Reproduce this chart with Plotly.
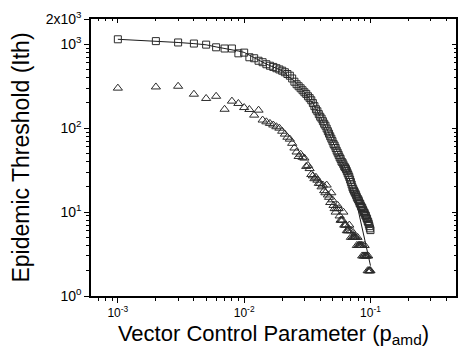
import math
import plotly.graph_objects as go

# ---------------- data ----------------
p_amd = [
    0.001, 0.002, 0.003, 0.004, 0.005, 0.006, 0.007, 0.008, 0.009, 0.010,
    0.011, 0.012, 0.013, 0.014, 0.015, 0.016, 0.017, 0.018, 0.019, 0.020,
    0.021, 0.022, 0.023, 0.024, 0.025, 0.026, 0.027, 0.028, 0.029, 0.030,
    0.031, 0.032, 0.033, 0.034, 0.035, 0.036, 0.037, 0.038, 0.039, 0.040,
    0.041, 0.042, 0.043, 0.044, 0.045, 0.046, 0.047, 0.048, 0.049, 0.050,
    0.051, 0.052, 0.053, 0.054, 0.055, 0.056, 0.057, 0.058, 0.059, 0.060,
    0.061, 0.062, 0.063, 0.064, 0.065, 0.066, 0.067, 0.068, 0.069, 0.070,
    0.071, 0.072, 0.073, 0.074, 0.075, 0.076, 0.077, 0.078, 0.079, 0.080,
    0.081, 0.082, 0.083, 0.084, 0.085, 0.086, 0.087, 0.088, 0.089, 0.090,
    0.091, 0.092, 0.093, 0.094, 0.095, 0.096, 0.097, 0.098, 0.099, 0.100,
]

ith_squares = [
    1146, 1090, 1050, 1020, 990, 920, 890, 890, 780, 795,
    700, 681, 636, 611, 578, 555, 537, 518, 501, 484,
    464, 442, 422, 391, 358, 334, 316, 299, 283, 268,
    256, 240, 228, 215, 199, 183, 168, 159, 147, 137,
    130, 121, 113, 107, 99, 92, 86, 80, 75, 70,
    65, 62, 58, 54, 51, 48, 45, 43, 40, 39,
    37, 35, 34, 32.5, 30.8, 29.1, 27.6, 26.1, 24.4, 22.8,
    21.3, 19.8, 18.8, 18.0, 17.3, 16.6, 15.9, 15.1, 14.5, 14.1,
    13.5, 12.8, 12.5, 11.9, 11.5, 11.2, 10.7, 10.3, 9.9, 9.7,
    9.2, 9.0, 8.5, 8.3, 7.8, 7.6, 7.2, 6.8, 6.4, 6.1,
]

ith_triangles = [
    300, 310, 316, 254, 226, 240, 168, 210, 197, 176,
    167, 143, 164, 125, 119, 114, 109, 104, 100, 92,
    85, 78, 74, 66, 58, 52, 46, 49, 45, 44,
    35, 36, 33, 28, 27, 25, 26, 24, 22, 22,
    20, 21, 18, 17, 21, 16, 15, 13, 17, 14,
    12, 11, 10, 11, 12, 11, 9, 8, 8, 8,
    10, 7, 7, 7, 6, 6, 6, 7, 6, 5,
    6, 5, 5, 5, 5, 5, 5, 4, 5, 4,
    4, 4, 4, 4, 4, 3, 4, 3, 3, 4,
    3, 3, 3, 3, 2, 3, 2, 2, 2, 2,
]

curve_x = [0.001, 0.002, 0.003, 0.004, 0.005, 0.006, 0.007, 0.008, 0.009, 0.010,
           0.015, 0.020, 0.025, 0.030, 0.035, 0.040, 0.045, 0.050, 0.055, 0.060,
           0.065, 0.070, 0.075, 0.080, 0.085, 0.090, 0.095, 0.100]
curve_y = [1146, 1095, 1050, 1018, 985, 930, 895, 870, 830, 800,
           580, 484, 360, 268, 199, 137, 99, 70, 51, 39,
           30, 22, 16, 10.5, 7.0, 4.6, 3.2, 2.3]

x_major = [0.001, 0.01, 0.1]
x_major_text = ["10<sup>-3</sup>", "10<sup>-2</sup>", "10<sup>-1</sup>"]
y_major = [1, 10, 100, 1000, 2000]
y_major_text = ["10<sup>0</sup>", "10<sup>1</sup>", "10<sup>2</sup>", "10<sup>3</sup>", "2x10<sup>3</sup>"]

# ---------------- figure ----------------
INK = "#2b2b2b"
FONT = "Arial, Liberation Sans, sans-serif"

x_minor = [m * 10 ** e for e in (-4, -3, -2, -1) for m in range(2, 10)]
y_minor = [m * 10 ** e for e in (0, 1, 2) for m in range(2, 10)]

fig = go.Figure()
fig.add_trace(go.Scatter(x=curve_x, y=curve_y, mode="lines",
                         line=dict(color="#1a1a1a", width=1), showlegend=False))
fig.add_trace(go.Scatter(x=p_amd, y=ith_squares, mode="markers",
                         marker=dict(symbol="square-open", size=7,
                                     color=INK, line=dict(width=1, color=INK)),
                         showlegend=False))
fig.add_trace(go.Scatter(x=p_amd, y=ith_triangles, mode="markers",
                         marker=dict(symbol="triangle-up-open", size=8,
                                     color=INK, line=dict(width=1, color=INK)),
                         showlegend=False))
# helper traces so the top / right tick axes get drawn
fig.add_trace(go.Scatter(x=[None], y=[None], xaxis="x2", yaxis="y",
                         mode="markers", showlegend=False, hoverinfo="skip"))
fig.add_trace(go.Scatter(x=[None], y=[None], xaxis="x", yaxis="y2",
                         mode="markers", showlegend=False, hoverinfo="skip"))

xr = [-3.2126, -0.3228]
yr = [0, math.log10(2000)]

fig.update_layout(
    width=458, height=354,
    margin=dict(l=91, r=0, t=19, b=58),
    paper_bgcolor="white", plot_bgcolor="white",
    font=dict(family=FONT, color="black", size=12),
    xaxis=dict(type="log", range=xr, showgrid=False, zeroline=False,
               showline=True, mirror=True, linecolor="black", linewidth=2,
               ticks="outside", ticklen=5, tickwidth=1, tickcolor="black",
               tickvals=x_major, ticktext=x_major_text,
               tickfont=dict(size=12, family=FONT),
               minor=dict(tickvals=x_minor, ticks="outside", ticklen=3,
                          tickwidth=1, tickcolor="black", showgrid=False),
               title=dict(text="Vector Control Parameter (p<sub>amd</sub>)",
                          font=dict(size=22, family=FONT), standoff=6)),
    yaxis=dict(type="log", range=yr, showgrid=False, zeroline=False,
               showline=True, mirror=True, linecolor="black", linewidth=1.5,
               ticks="outside", ticklen=5, tickwidth=1, tickcolor="black",
               tickvals=y_major, ticktext=y_major_text,
               tickfont=dict(size=14, family=FONT),
               minor=dict(tickvals=y_minor, ticks="outside", ticklen=3,
                          tickwidth=1, tickcolor="black", showgrid=False),
               title=dict(text="Epidemic Threshold (Ith)",
                          font=dict(size=23, family=FONT), standoff=10)),
    xaxis2=dict(type="log", range=xr, overlaying="x", side="top", anchor="y",
                showgrid=False, zeroline=False, showline=True,
                linecolor="black", linewidth=2,
                ticks="inside", ticklen=4, tickwidth=1,
                tickcolor="black", tickvals=x_major, showticklabels=False,
                minor=dict(tickvals=x_minor, ticks="inside", ticklen=2,
                           tickcolor="black", showgrid=False)),
    yaxis2=dict(type="log", range=yr, overlaying="y", side="right", anchor="x",
                showgrid=False, zeroline=False, showline=True,
                linecolor="black", linewidth=1.5,
                ticks="inside", ticklen=4, tickwidth=1,
                tickcolor="black", tickvals=y_major, showticklabels=False,
                minor=dict(tickvals=y_minor, ticks="inside", ticklen=2,
                           tickcolor="black", showgrid=False)),
)

fig.write_html("out.html")
